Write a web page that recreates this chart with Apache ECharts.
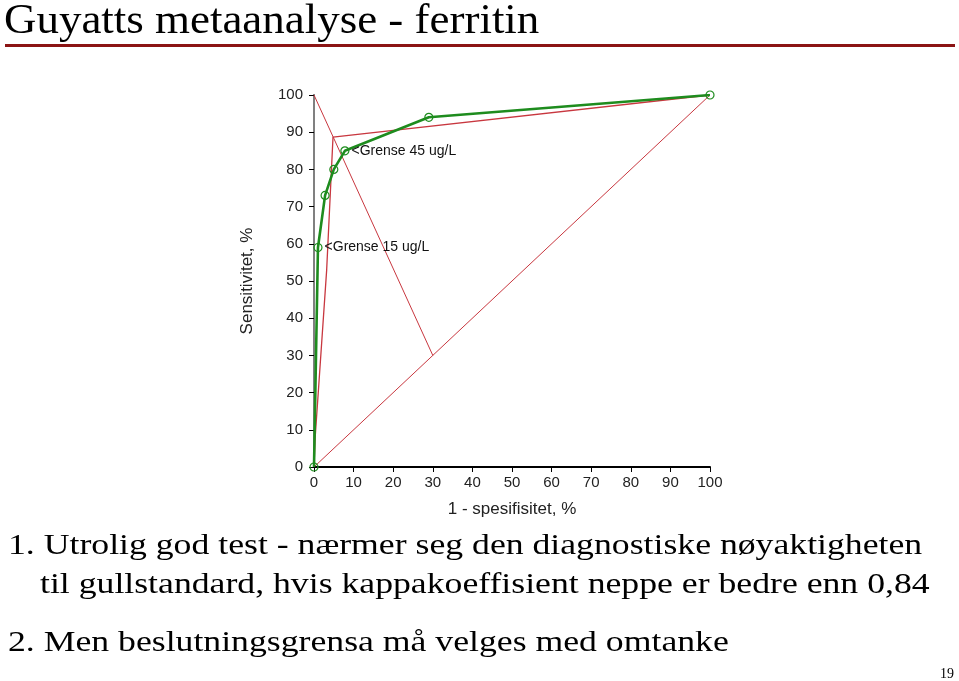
<!DOCTYPE html>
<html><head><meta charset="utf-8">
<script src="https://cdn.jsdelivr.net/npm/echarts@6/dist/echarts.min.js"></script>
<style>html,body{margin:0;padding:0;background:#fff}#c{width:959px;height:681px}</style>
</head><body><div id="c"></div>
<script>
const xTicks = [0,10,20,30,40,50,60,70,80,90,100];
const rocX = [0, 1.0, 2.8, 5.0, 7.8, 29, 100];
const rocY = [0, 59, 73, 80, 85, 94, 100];
const rocLabels = ['', '<Grense 15 ug/L', '', '', '<Grense 45 ug/L', '', ''];
const srocX = [0, 0.3, 3.2, 4.8, 100];
const srocY = [0, 8, 53, 88.7, 100];
const diagX = [0, 100];
const diagY = [0, 100];
const perpX = [0, 30];
const perpY = [100, 30];
const titleText = 'Guyatts metaanalyse - ferritin';
const bodyLines = [
  '1. Utrolig god test - nærmer seg den diagnostiske nøyaktigheten',
  'til gullstandard, hvis kappakoeffisient neppe er bedre enn 0,84',
  '2. Men beslutningsgrensa må velges med omtanke'
];
const pageNo = '19';

const zip = (xs, ys) => xs.map((x, i) => [x, ys[i]]);
const red = '#c8373f';
const chart = echarts.init(document.getElementById('c'));
const serif = '"Liberation Serif", "Times New Roman", serif';
const sans = '"Liberation Sans", Arial, sans-serif';
chart.setOption({
  animation: false,
  grid: {left: 314, right: 249, top: 95, bottom: 214},
  xAxis: [{
    type: 'value', min: 0, max: 100, interval: 10,
    name: '1 - spesifisitet, %', nameLocation: 'middle', nameGap: 34,
    nameTextStyle: {fontFamily: sans, fontSize: 17, color: '#222'},
    axisLine: {lineStyle: {color: '#000', width: 2}},
    axisTick: {show: true, length: 5, lineStyle: {color: '#000'}},
    axisLabel: {fontFamily: sans, fontSize: 15, color: '#222', margin: 8},
    splitLine: {show: false}
  }, {
    type: 'value', min: 0, max: 100, position: 'top',
    axisLine: {show: true, lineStyle: {color: '#000', width: 1}},
    axisTick: {show: false}, axisLabel: {show: false}, splitLine: {show: false}
  }],
  yAxis: [{
    type: 'value', min: 0, max: 100, interval: 10,
    name: 'Sensitivitet, %', nameLocation: 'middle', nameGap: 58,
    nameTextStyle: {fontFamily: sans, fontSize: 17, color: '#222'},
    axisLine: {show: true, lineStyle: {color: '#808080', width: 2}},
    axisTick: {show: true, length: 5, lineStyle: {color: '#000'}},
    axisLabel: {fontFamily: sans, fontSize: 15, color: '#222', margin: 11},
    splitLine: {show: false}
  }, {
    type: 'value', min: 0, max: 100, position: 'right',
    axisLine: {show: true, lineStyle: {color: '#808080', width: 2}},
    axisTick: {show: false}, axisLabel: {show: false}, splitLine: {show: false}
  }],
  series: [
    {type: 'line', data: zip(diagX, diagY), symbol: 'none', lineStyle: {color: red, width: 1}, z: 2},
    {type: 'line', data: zip(perpX, perpY), symbol: 'none', lineStyle: {color: red, width: 1}, z: 2},
    {type: 'line', data: zip(srocX, srocY), symbol: 'none', lineStyle: {color: red, width: 1.3}, z: 2},
    {type: 'line', symbol: 'circle', symbolSize: 8,
      itemStyle: {color: 'rgba(255,255,255,0)', borderColor: '#1e8c1e', borderWidth: 1.2},
      lineStyle: {color: '#1e8c1e', width: 2.6}, z: 3,
      data: rocX.map((x, i) => ({
        value: [x, rocY[i]],
        label: rocLabels[i] ? {show: true, position: 'right', distance: 2, formatter: rocLabels[i],
          fontFamily: sans, fontSize: 14, color: '#111'} : {show: false}
      }))
    }
  ],
  graphic: [
    {type: 'text', x: 4, y: 1, scaleX: 1.07, style: {text: titleText, font: '42px ' + serif, fill: '#000', verticalAlign: 'top'}},
    {type: 'rect', shape: {x: 5, y: 44, width: 950, height: 3}, style: {fill: '#8b1414'}},
    {type: 'text', x: 8, y: 531, scaleX: 1.19, style: {text: bodyLines[0], font: '30px ' + serif, fill: '#000', verticalAlign: 'top'}},
    {type: 'text', x: 40, y: 570, scaleX: 1.19, style: {text: bodyLines[1], font: '30px ' + serif, fill: '#000', verticalAlign: 'top'}},
    {type: 'text', x: 8, y: 628, scaleX: 1.19, style: {text: bodyLines[2], font: '30px ' + serif, fill: '#000', verticalAlign: 'top'}},
    {type: 'text', x: 940, y: 667, style: {text: pageNo, font: '14px ' + serif, fill: '#000', verticalAlign: 'top'}}
  ]
});
</script></body></html>
